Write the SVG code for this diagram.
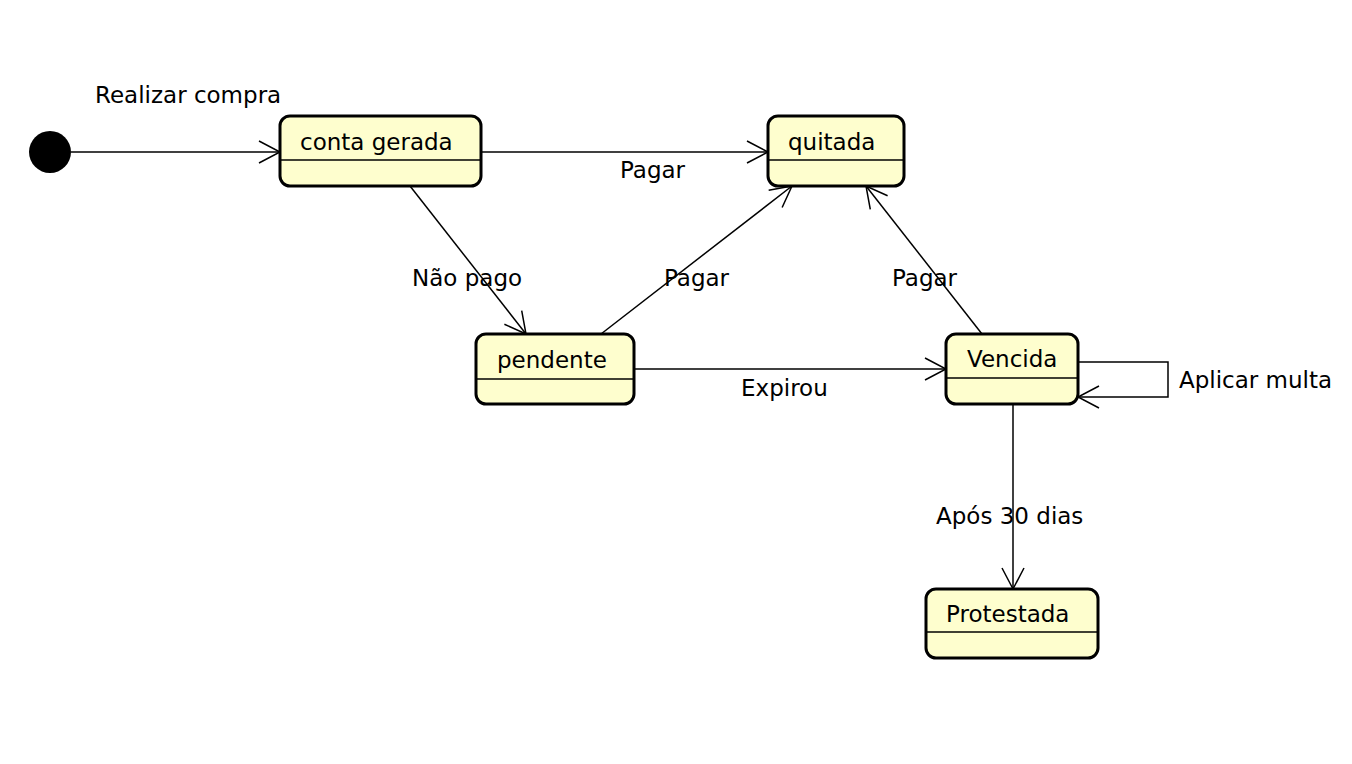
<svg xmlns="http://www.w3.org/2000/svg" width="1352" height="764" viewBox="0 0 1352 764">
<style>
.node{fill:#FEFECE;stroke:#000;stroke-width:3}
.div{stroke:#000;stroke-width:1.5}
.t{font-family:"DejaVu Sans",sans-serif;font-size:23px;fill:#000}
.c{fill:none;stroke:#000;stroke-width:1.5}
</style>
<defs>
<marker id="arr" markerUnits="userSpaceOnUse" viewBox="-24 -13 26 26" markerWidth="26" markerHeight="26" refX="0" refY="0" orient="auto">
<path d="M-21,-11 L0,0 L-21,11" fill="none" stroke="#000" stroke-width="1.5"/>
</marker>
</defs>
<rect width="1352" height="764" fill="#fff"/>
<g id="connectors">
<line class="c" x1="71" y1="152" x2="280" y2="152" marker-end="url(#arr)"/>
<line class="c" x1="481" y1="152" x2="768" y2="152" marker-end="url(#arr)"/>
<line class="c" x1="410" y1="186" x2="526" y2="334" marker-end="url(#arr)"/>
<line class="c" x1="601" y1="334" x2="792" y2="186" marker-end="url(#arr)"/>
<line class="c" x1="982" y1="334" x2="866" y2="186" marker-end="url(#arr)"/>
<line class="c" x1="634" y1="369" x2="946" y2="369" marker-end="url(#arr)"/>
<polyline class="c" points="1078,362 1168,362 1168,397 1078,397" marker-end="url(#arr)"/>
<line class="c" x1="1013" y1="404" x2="1013" y2="589" marker-end="url(#arr)"/>
<text class="t" x="95" y="103">Realizar compra</text>
<text class="t" x="620" y="178">Pagar</text>
<text class="t" x="412" y="286">Não pago</text>
<text class="t" x="664" y="286">Pagar</text>
<text class="t" x="892" y="286">Pagar</text>
<text class="t" x="741" y="396">Expirou</text>
<text class="t" x="1179" y="388">Aplicar multa</text>
<text class="t" x="936" y="524">Após 30 dias</text>
</g>
<g id="initial"><circle cx="50" cy="152" r="21" fill="#000"/></g>
<g id="conta-gerada">
<rect class="node" x="280" y="116" width="201" height="70" rx="10"/>
<line class="div" x1="280" y1="160" x2="481" y2="160"/>
<text class="t" x="300" y="150">conta gerada</text>
</g>
<g id="quitada">
<rect class="node" x="768" y="116" width="136" height="70" rx="10"/>
<line class="div" x1="768" y1="160" x2="904" y2="160"/>
<text class="t" x="788" y="150">quitada</text>
</g>
<g id="pendente">
<rect class="node" x="476" y="334" width="158" height="70" rx="10"/>
<line class="div" x1="476" y1="379" x2="634" y2="379"/>
<text class="t" x="497" y="368">pendente</text>
</g>
<g id="vencida">
<rect class="node" x="946" y="334" width="132" height="70" rx="10"/>
<line class="div" x1="946" y1="378" x2="1078" y2="378"/>
<text class="t" x="967" y="367">Vencida</text>
</g>
<g id="protestada">
<rect class="node" x="926" y="589" width="172" height="69" rx="10"/>
<line class="div" x1="926" y1="632" x2="1098" y2="632"/>
<text class="t" x="946" y="622">Protestada</text>
</g>
</svg>
